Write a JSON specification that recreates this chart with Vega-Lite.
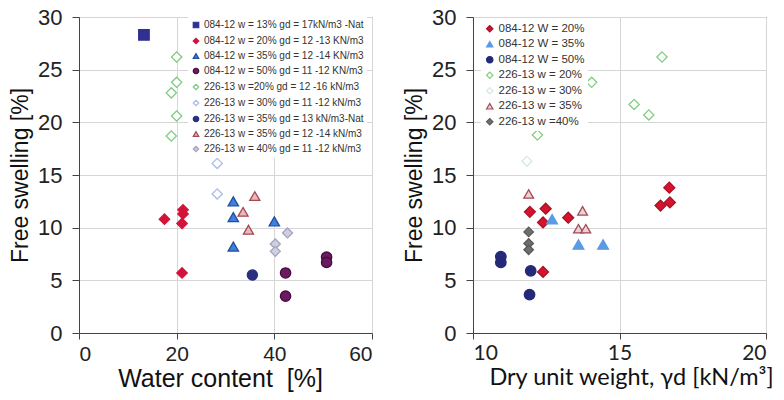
{
  "$schema": "https://vega.github.io/schema/vega-lite/v6.json",
  "background": "white",
  "padding": {"left": 9, "top": 5, "right": 3, "bottom": 4},
  "spacing": 30,
  "config": {
    "view": {"stroke": "#777", "strokeWidth": 1},
    "axis": {
      "labelFont": "Liberation Sans", "labelFontSize": 21, "labelColor": "#222",
      "titleFont": "Liberation Sans", "titleFontSize": 23, "titleFontWeight": "normal", "titleColor": "#111",
      "gridColor": "#d6d6d6", "domainColor": "#444", "tickColor": "#444", "tickSize": 7
    },
    "legend": {"labelFont": "Liberation Sans", "labelColor": "#333", "fillColor": "white", "symbolStrokeWidth": 1.2, "labelLimit": 400}
  },
  "datasets": {
    "left": [
      {"s": "084-12 w = 13% gd = 17kN/m3 -Nat", "x": 13.3, "y": 28.3},
      {"s": "084-12 w = 20% gd = 12 -13 KN/m3", "x": 21.3, "y": 11.7},
      {"s": "084-12 w = 20% gd = 12 -13 KN/m3", "x": 21.3, "y": 11.3},
      {"s": "084-12 w = 20% gd = 12 -13 KN/m3", "x": 17.5, "y": 10.8},
      {"s": "084-12 w = 20% gd = 12 -13 KN/m3", "x": 21.1, "y": 10.4},
      {"s": "084-12 w = 20% gd = 12 -13 KN/m3", "x": 21.1, "y": 5.7},
      {"s": "084-12 w = 35% gd = 12 -14 KN/m3", "x": 31.6, "y": 12.5},
      {"s": "084-12 w = 35% gd = 12 -14 KN/m3", "x": 31.6, "y": 11.0},
      {"s": "084-12 w = 35% gd = 12 -14 KN/m3", "x": 40.0, "y": 10.6},
      {"s": "084-12 w = 35% gd = 12 -14 KN/m3", "x": 31.6, "y": 8.2},
      {"s": "084-12 w = 50% gd = 11 -12 KN/m3", "x": 50.7, "y": 7.2},
      {"s": "084-12 w = 50% gd = 11 -12 KN/m3", "x": 50.7, "y": 6.7},
      {"s": "084-12 w = 50% gd = 11 -12 KN/m3", "x": 42.3, "y": 5.7},
      {"s": "084-12 w = 50% gd = 11 -12 KN/m3", "x": 42.3, "y": 3.5},
      {"s": "226-13 w  =20% gd = 12 -16 kN/m3", "x": 20.0, "y": 26.2},
      {"s": "226-13 w  =20% gd = 12 -16 kN/m3", "x": 20.0, "y": 23.8},
      {"s": "226-13 w  =20% gd = 12 -16 kN/m3", "x": 18.9, "y": 22.8},
      {"s": "226-13 w  =20% gd = 12 -16 kN/m3", "x": 20.0, "y": 20.6},
      {"s": "226-13 w  =20% gd = 12 -16 kN/m3", "x": 18.9, "y": 18.7},
      {"s": "226-13 w = 30% gd = 11 -12 kN/m3", "x": 28.3, "y": 16.1},
      {"s": "226-13 w = 30% gd = 11 -12 kN/m3", "x": 28.3, "y": 13.2},
      {"s": "226-13 w = 35% gd = 13 kN/m3-Nat", "x": 35.5, "y": 5.5},
      {"s": "226-13 w = 35% gd = 12 -14 kN/m3", "x": 36.0, "y": 13.0},
      {"s": "226-13 w = 35% gd = 12 -14 kN/m3", "x": 33.6, "y": 11.5},
      {"s": "226-13 w = 35% gd = 12 -14 kN/m3", "x": 34.7, "y": 9.8},
      {"s": "226-13 w = 40% gd = 11 -12 kN/m3", "x": 42.7, "y": 9.5},
      {"s": "226-13 w = 40% gd = 11 -12 kN/m3", "x": 40.2, "y": 8.45},
      {"s": "226-13 w = 40% gd = 11 -12 kN/m3", "x": 40.2, "y": 7.75}
    ],
    "right": [
      {"s": "084-12 W = 20%", "x": 16.7, "y": 13.8},
      {"s": "084-12 W = 20%", "x": 16.4, "y": 12.1},
      {"s": "084-12 W = 20%", "x": 16.72, "y": 12.4},
      {"s": "084-12 W = 20%", "x": 11.94, "y": 11.5},
      {"s": "084-12 W = 20%", "x": 12.48, "y": 11.8},
      {"s": "084-12 W = 20%", "x": 12.39, "y": 10.5},
      {"s": "084-12 W = 20%", "x": 13.25, "y": 10.95},
      {"s": "084-12 W = 20%", "x": 12.39, "y": 5.8},
      {"s": "084-12 W = 35%", "x": 12.7, "y": 10.8},
      {"s": "084-12 W = 35%", "x": 13.6, "y": 8.4},
      {"s": "084-12 W = 35%", "x": 14.44, "y": 8.4},
      {"s": "084-12 W = 50%", "x": 10.95, "y": 7.25},
      {"s": "084-12 W = 50%", "x": 10.95, "y": 6.7},
      {"s": "084-12 W = 50%", "x": 11.97, "y": 5.9},
      {"s": "084-12 W = 50%", "x": 11.93, "y": 3.65},
      {"s": "226-13 w = 20%", "x": 16.45, "y": 26.2},
      {"s": "226-13 w = 20%", "x": 14.05, "y": 23.8},
      {"s": "226-13 w = 20%", "x": 15.5, "y": 21.7},
      {"s": "226-13 w = 20%", "x": 16.0, "y": 20.7},
      {"s": "226-13 w = 20%", "x": 12.2, "y": 18.8},
      {"s": "226-13 w = 30%", "x": 11.84, "y": 16.3},
      {"s": "226-13 w = 35%", "x": 11.9, "y": 13.2},
      {"s": "226-13 w = 35%", "x": 13.74, "y": 11.6},
      {"s": "226-13 w = 35%", "x": 13.6, "y": 9.9},
      {"s": "226-13 w = 35%", "x": 13.85, "y": 9.9},
      {"s": "226-13 w =40%", "x": 11.9, "y": 9.6},
      {"s": "226-13 w =40%", "x": 11.9, "y": 8.5},
      {"s": "226-13 w =40%", "x": 11.9, "y": 7.9}
    ]
  },
  "hconcat": [
    {
      "width": 293, "height": 316,
      "data": {"name": "left"},
      "mark": {"type": "point", "filled": true, "opacity": 1, "strokeWidth": 1.3},
      "encoding": {
        "x": {"field": "x", "type": "quantitative", "scale": {"domain": [0, 60], "nice": false},
              "axis": {"values": [0, 20, 40, 60], "title": "Water content\u00a0 [%]", "titleFontSize": 25, "titleX": 141, "tickSize": 6, "labelPadding": 4, "titlePadding": 2}},
        "y": {"field": "y", "type": "quantitative", "scale": {"domain": [0, 30], "nice": false},
              "axis": {"values": [0, 5, 10, 15, 20, 25, 30], "title": "Free swelling [%]", "labelFontSize": 22, "labelPadding": 10, "titlePadding": 5}},
        "shape": {"field": "s", "type": "nominal",
          "scale": {"domain": ["084-12 w = 13% gd = 17kN/m3 -Nat", "084-12 w = 20% gd = 12 -13 KN/m3", "084-12 w = 35% gd = 12 -14 KN/m3", "084-12 w = 50% gd = 11 -12 KN/m3", "226-13 w  =20% gd = 12 -16 kN/m3", "226-13 w = 30% gd = 11 -12 kN/m3", "226-13 w = 35% gd = 13 kN/m3-Nat", "226-13 w = 35% gd = 12 -14 kN/m3", "226-13 w = 40% gd = 11 -12 kN/m3"],
                    "range": ["square", "diamond", "triangle-up", "circle", "diamond", "diamond", "circle", "triangle-up", "diamond"]},
          "legend": {"title": null, "orient": "none", "legendX": 109, "legendY": 0, "labelFontSize": 10, "symbolSize": 30, "rowPadding": 4, "padding": 3, "labelOffset": 3}},
        "fill": {"field": "s", "type": "nominal",
          "scale": {"domain": ["084-12 w = 13% gd = 17kN/m3 -Nat", "084-12 w = 20% gd = 12 -13 KN/m3", "084-12 w = 35% gd = 12 -14 KN/m3", "084-12 w = 50% gd = 11 -12 KN/m3", "226-13 w  =20% gd = 12 -16 kN/m3", "226-13 w = 30% gd = 11 -12 kN/m3", "226-13 w = 35% gd = 13 kN/m3-Nat", "226-13 w = 35% gd = 12 -14 kN/m3", "226-13 w = 40% gd = 11 -12 kN/m3"],
                    "range": ["#2E3192", "#D2143A", "#3F7FDC", "#6A1A5E", "#ffffff", "#ffffff", "#2B2F7F", "#E9B8BC", "#CFCFDF"]},
          "legend": {"title": null, "orient": "none", "legendX": 109, "legendY": 0, "labelFontSize": 10, "symbolSize": 30, "rowPadding": 4, "padding": 3, "labelOffset": 3}},
        "stroke": {"field": "s", "type": "nominal",
          "scale": {"domain": ["084-12 w = 13% gd = 17kN/m3 -Nat", "084-12 w = 20% gd = 12 -13 KN/m3", "084-12 w = 35% gd = 12 -14 KN/m3", "084-12 w = 50% gd = 11 -12 KN/m3", "226-13 w  =20% gd = 12 -16 kN/m3", "226-13 w = 30% gd = 11 -12 kN/m3", "226-13 w = 35% gd = 13 kN/m3-Nat", "226-13 w = 35% gd = 12 -14 kN/m3", "226-13 w = 40% gd = 11 -12 kN/m3"],
                    "range": ["#2E3192", "#D2143A", "#1F4FA0", "#4A0A40", "#7DCB7D", "#A8BCE8", "#2B2F7F", "#A64652", "#A3A3BF"]},
          "legend": {"title": null, "orient": "none", "legendX": 109, "legendY": 0, "labelFontSize": 10, "symbolSize": 30, "rowPadding": 4, "padding": 3, "labelOffset": 3}},
        "size": {"field": "s", "type": "nominal", "legend": null,
          "scale": {"domain": ["226-13 w = 40% gd = 11 -12 kN/m3", "226-13 w = 35% gd = 12 -14 kN/m3", "226-13 w = 35% gd = 13 kN/m3-Nat", "226-13 w = 30% gd = 11 -12 kN/m3", "226-13 w  =20% gd = 12 -16 kN/m3", "084-12 w = 50% gd = 11 -12 KN/m3", "084-12 w = 35% gd = 12 -14 KN/m3", "084-12 w = 20% gd = 12 -13 KN/m3", "084-12 w = 13% gd = 17kN/m3 -Nat"],
                    "range": [100, 110, 70, 110, 110, 70, 75, 60, 110]}}
      }
    },
    {
      "width": 293, "height": 316,
      "data": {"name": "right"},
      "mark": {"type": "point", "filled": true, "opacity": 1, "strokeWidth": 1.3},
      "encoding": {
        "x": {"field": "x", "type": "quantitative", "scale": {"domain": [10, 20], "nice": false, "zero": false},
              "axis": {"values": [10, 15, 20], "title": "Dry unit weight, γd [kN/m³]", "labelFont": "Lato", "titleFont": "Lato", "titleFontSize": 23.5, "titleX": 158, "labelFontSize": 21, "tickSize": 6, "labelPadding": 3, "titlePadding": 2}},
        "y": {"field": "y", "type": "quantitative", "scale": {"domain": [0, 30], "nice": false},
              "axis": {"values": [0, 5, 10, 15, 20, 25, 30], "title": "Free swelling [%]", "labelFontSize": 22, "labelPadding": 10, "titlePadding": 5}},
        "shape": {"field": "s", "type": "nominal",
          "scale": {"domain": ["084-12 W = 20%", "084-12 W = 35%", "084-12 W = 50%", "226-13 w = 20%", "226-13 w = 30%", "226-13 w = 35%", "226-13 w =40%"],
                    "range": ["diamond", "triangle-up", "circle", "diamond", "diamond", "triangle-up", "diamond"]},
          "legend": {"title": null, "orient": "none", "legendX": 8, "legendY": 3, "labelFontSize": 11.5, "symbolSize": 40, "rowPadding": 2.5, "padding": 3, "labelOffset": 3}},
        "fill": {"field": "s", "type": "nominal",
          "scale": {"domain": ["084-12 W = 20%", "084-12 W = 35%", "084-12 W = 50%", "226-13 w = 20%", "226-13 w = 30%", "226-13 w = 35%", "226-13 w =40%"],
                    "range": ["#D5132D", "#5A9BE6", "#242A78", "#ffffff", "#ffffff", "#EFCFD3", "#6E6E6E"]},
          "legend": {"title": null, "orient": "none", "legendX": 8, "legendY": 3, "labelFontSize": 11.5, "symbolSize": 40, "rowPadding": 2.5, "padding": 3, "labelOffset": 3}},
        "stroke": {"field": "s", "type": "nominal",
          "scale": {"domain": ["084-12 W = 20%", "084-12 W = 35%", "084-12 W = 50%", "226-13 w = 20%", "226-13 w = 30%", "226-13 w = 35%", "226-13 w =40%"],
                    "range": ["#A81025", "#5A9BE6", "#242A78", "#80CF80", "#D5E8E5", "#9E4B55", "#5A5A5A"]},
          "legend": {"title": null, "orient": "none", "legendX": 8, "legendY": 3, "labelFontSize": 11.5, "symbolSize": 40, "rowPadding": 2.5, "padding": 3, "labelOffset": 3}},
        "size": {"field": "s", "type": "nominal", "legend": null,
          "scale": {"domain": ["226-13 w =40%", "226-13 w = 35%", "226-13 w = 30%", "226-13 w = 20%", "084-12 W = 50%", "084-12 W = 35%", "084-12 W = 20%"],
                    "range": [90, 120, 100, 100, 75, 110, 90]}}
      }
    }
  ],
  "resolve": {"scale": {"shape": "independent", "fill": "independent", "stroke": "independent", "size": "independent"}, "legend": {"shape": "independent", "fill": "independent", "stroke": "independent", "size": "independent"}}
}
